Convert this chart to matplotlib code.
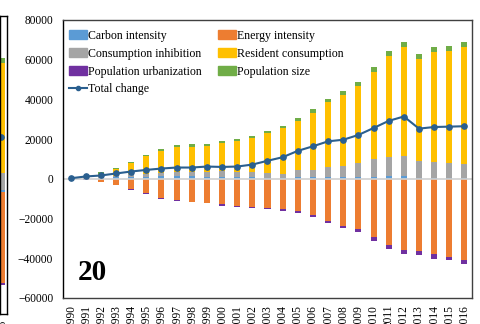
import numpy as np
import matplotlib
matplotlib.use("Agg")
import matplotlib.pyplot as plt
from matplotlib.patches import Patch
from matplotlib.lines import Line2D

plt.rcParams['font.family'] = ['Liberation Serif', 'DejaVu Serif']

years = [str(y) for y in range(1990, 2017)]

# values, in thousands
carbon = np.array([0, 0, 0.5, 0.8, 0.9, 1.0, 1.3, 1.3, 1.2, 1.0, 0.9, 1.0, 0.8, 0.6,
                   0.6, 0.9, 1.0, 1.0, 0.8, 0.8, 1.0, 1.4, 1.2, 0.2, 0.2, 0.2, 0.2]) * 1000
energy = np.array([0, -0.3, -1.4, -3.1, -4.9, -7.3, -9.8, -10.8, -11.7, -12.0, -12.9, -13.7,
                   -14.2, -14.9, -15.4, -16.3, -18.1, -21.0, -23.5, -25.5, -29.4, -33.5,
                   -36.0, -36.3, -38.0, -39.4, -40.7]) * 1000
consumption = np.array([0, 0.3, 1.2, 0.5, 1.5, 1.5, 1.4, 2.1, 2.3, 2.5, 2.9, 2.3, 2.5, 2.5,
                        1.8, 3.4, 3.7, 4.9, 5.6, 7.1, 9.1, 9.6, 10.1, 8.6, 8.4, 7.8, 7.1]) * 1000
resident = np.array([0, 0.8, 0.8, 3.6, 5.7, 8.9, 11.2, 12.4, 12.7, 12.8, 14.5, 15.7, 17.1,
                     19.9, 23.1, 25.0, 28.6, 32.6, 35.8, 38.7, 43.7, 50.7, 55.1, 51.8, 55.4,
                     56.6, 59.1]) * 1000
urban = np.array([0, -0.5, -0.2, 0, -0.6, -0.3, -0.2, -0.2, -0.2, -0.2, -0.7, -0.7, -0.7,
                  -0.5, -0.7, -0.7, -1.0, -1.0, -1.2, -1.4, -1.9, -2.0, -2.0, -2.0, -2.2,
                  -1.4, -2.2]) * 1000
popsize = np.array([0, 0.3, 0.8, 0.7, 0.5, 0.7, 0.9, 1.2, 1.5, 1.2, 0.9, 1.0, 1.2, 1.2, 1.2,
                    1.4, 2.0, 1.7, 2.0, 2.4, 2.4, 2.5, 2.7, 2.5, 2.4, 2.4, 2.4]) * 1000
total = np.array([0.3, 1.2, 1.7, 2.7, 3.7, 4.5, 5.2, 5.7, 5.7, 6.2, 6.0, 6.2, 7.2, 9.1,
                  10.9, 14.1, 16.4, 18.9, 19.7, 22.1, 25.6, 29.2, 31.4, 25.3, 26.1, 26.3,
                  26.5]) * 1000

# neighbouring panel (only its last bar shows at the left edge)
nb_vals = {'carbon': 800, 'consumption': 8000, 'resident': 51800, 'popsize': 2200,
           'energy': -43000, 'urban': -1000}
nb_total = 25800

series = [('Carbon intensity', carbon, '#5B9BD5'),
          ('Energy intensity', energy, '#ED7D31'),
          ('Consumption inhibition', consumption, '#A5A5A5'),
          ('Resident consumption', resident, '#FFC000'),
          ('Population urbanization', urban, '#7030A0'),
          ('Population size', popsize, '#70AD47')]
stack_order = [0, 2, 3, 5, 1, 4]
line_col = '#2A5F8F'

fig = plt.figure(figsize=(4.81, 3.24), dpi=100)
ax = fig.add_axes([63 / 481, 26 / 324, 409 / 481, 278 / 324])

x = np.arange(len(years))
pos_bottom = np.zeros(len(x))
neg_bottom = np.zeros(len(x))
for k in stack_order:
    name, vals, col = series[k]
    b = np.where(vals >= 0, pos_bottom, neg_bottom)
    ax.bar(x, vals, 0.4, bottom=b, color=col, linewidth=0, zorder=2)
    pos_bottom += np.clip(vals, 0, None)
    neg_bottom += np.clip(vals, None, 0)

ax.axhline(0, color='#D0D0D0', lw=1.2, zorder=2.5)
ax.plot(x, total, color=line_col, lw=1.5, marker='o', ms=3.8, zorder=3)

ax.set_xlim(-0.5, len(x) - 0.5)
ax.set_ylim(-60000, 80000)
ax.set_yticks(np.arange(-60000, 80001, 20000))
ax.set_xticks(x)
ax.set_xticklabels(years, rotation=90)
ax.tick_params(axis='both', length=0, labelsize=8.3)
ax.tick_params(axis='y', pad=7)
ax.tick_params(axis='x', pad=5)
for s in ax.spines.values():
    s.set_color('#404040')
    s.set_linewidth(1)
ax.spines['left'].set_color('black')

handles = [Patch(color=series[0][2]), Patch(color=series[2][2]), Patch(color=series[4][2]),
           Line2D([], [], color=line_col, lw=1.5, marker='o', ms=3),
           Patch(color=series[1][2]), Patch(color=series[3][2]), Patch(color=series[5][2])]
labels = [series[0][0], series[2][0], series[4][0], 'Total change',
          series[1][0], series[3][0], series[5][0]]
ax.legend(handles, labels, ncol=2, loc='upper left', bbox_to_anchor=(-0.008, 1.0),
          frameon=False, fontsize=8.6, handlelength=1.5, handletextpad=0.1,
          columnspacing=1.35, labelspacing=0.5, borderaxespad=0.7, borderpad=0.1)

ax.text(0.037, 0.065, '20', transform=ax.transAxes, fontsize=21, fontweight='bold')

# neighbouring panel on the left
nb = fig.add_axes([0, 10 / 324, 7.3 / 481, 298 / 324])
pb, nbm = 0, 0
for key, col in [('carbon', '#5B9BD5'), ('consumption', '#A5A5A5'), ('resident', '#FFC000'),
                 ('popsize', '#70AD47'), ('energy', '#ED7D31'), ('urban', '#7030A0')]:
    v = nb_vals[key]
    if v >= 0:
        nb.bar([26], [v], 0.5, bottom=pb, color=col, linewidth=0)
        pb += v
    else:
        nb.bar([26], [v], 0.5, bottom=nbm, color=col, linewidth=0)
        nbm += v
nb.plot([25.85], [nb_total], color=line_col, marker='o', ms=3.8)
nb.set_xlim(25.75, 26.45)
nb.set_ylim(-57400, 82500)
nb.set_yticks([])
nb.set_xticks([26])
nb.set_xticklabels(['2016'], rotation=90)
nb.tick_params(axis='x', length=0, labelsize=8, pad=4)
for s in nb.spines.values():
    s.set_color('black')
    s.set_linewidth(1)

fig.savefig('out.png', dpi=100)
